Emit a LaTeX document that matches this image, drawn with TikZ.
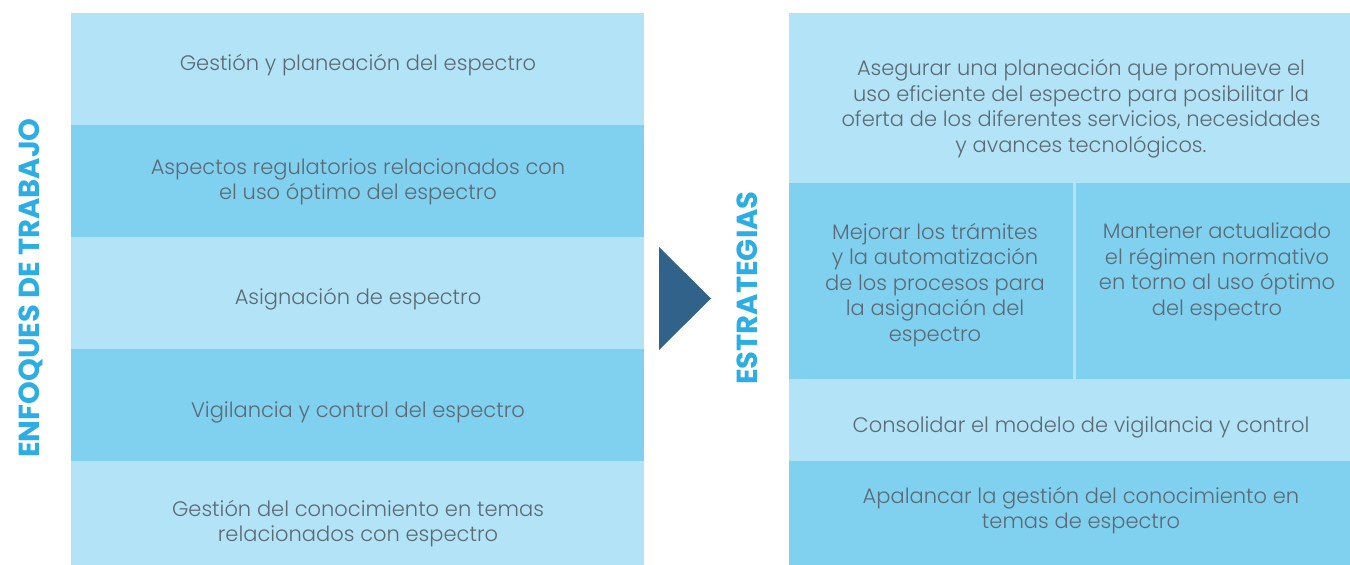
\documentclass[tikz,border=0pt]{standalone}
\usepackage{fontspec}
\setmainfont{Poppins}
\newfontfamily\lightfont{Poppins Light}
\definecolor{lightb}{HTML}{B3E3F6}
\definecolor{darkb}{HTML}{80D0EF}
\definecolor{txtg}{HTML}{5B6A74}
\definecolor{headb}{HTML}{2CADE4}
\definecolor{trib}{HTML}{30628A}
\tikzset{
  lbl/.style={align=center, text=txtg, font=\lightfont\fontsize{21}{25.5}\selectfont, inner sep=0pt},
  head/.style={text=headb, font=\bfseries\fontsize{29}{32}\selectfont, rotate=90, inner sep=0pt},
}
\begin{document}
\begin{tikzpicture}[x=1pt,y=-1pt]
\useasboundingbox (0,0) rectangle (1350,565);
% left column
\fill[lightb] (71,13) rectangle (644,125);
\fill[darkb] (71,125) rectangle (644,237);
\fill[lightb] (71,237) rectangle (644,349);
\fill[darkb] (71,349) rectangle (644,461);
\fill[lightb] (71,461) rectangle (644,565);
\node[lbl] (l1) at (358,65.5) {Gestión y planeación del espectro};
\node[lbl] (l2) at (358,182) {Aspectos regulatorios relacionados con\\el uso óptimo del espectro};
\node[lbl] (l3) at (358,299.5) {Asignación de espectro};
\node[lbl] (l4) at (358,412.5) {Vigilancia y control del espectro};
\node[lbl] (l5) at (358,523.5) {Gestión del conocimiento en temas\\relacionados con espectro};
\node[head] (h1) at (31,288) {ENFOQUES DE TRABAJO};
% arrow
\fill[trib] (659,247) -- (711,298.5) -- (659,350) -- cycle;
\node[head] (h2) at (747,288) {ESTRATEGIAS};
% right column
\fill[lightb] (789,13) rectangle (1350,565);
\fill[darkb] (789,183) rectangle (1073,379);
\fill[darkb] (1076,183) rectangle (1350,379);
\fill[darkb] (789,461) rectangle (1350,565);
\node[lbl] (r1) at (1081,108.5) {Asegurar una planeación que promueve el\\uso eficiente del espectro para posibilitar la\\oferta de los diferentes servicios, necesidades\\y avances tecnológicos.};
\node[lbl, anchor=north] (r2) at (935,223) {Mejorar los trámites\\y la automatización\\de los procesos para\\la asignación del\\espectro};
\node[lbl, anchor=north] (r3) at (1217,223) {Mantener actualizado\\el régimen normativo\\en torno al uso óptimo\\del espectro};
\node[lbl] (r4) at (1081,427.5) {Consolidar el modelo de vigilancia y control};
\node[lbl] (r5) at (1081,510.5) {Apalancar la gestión del conocimiento en\\temas de espectro};
\end{tikzpicture}
\end{document}
